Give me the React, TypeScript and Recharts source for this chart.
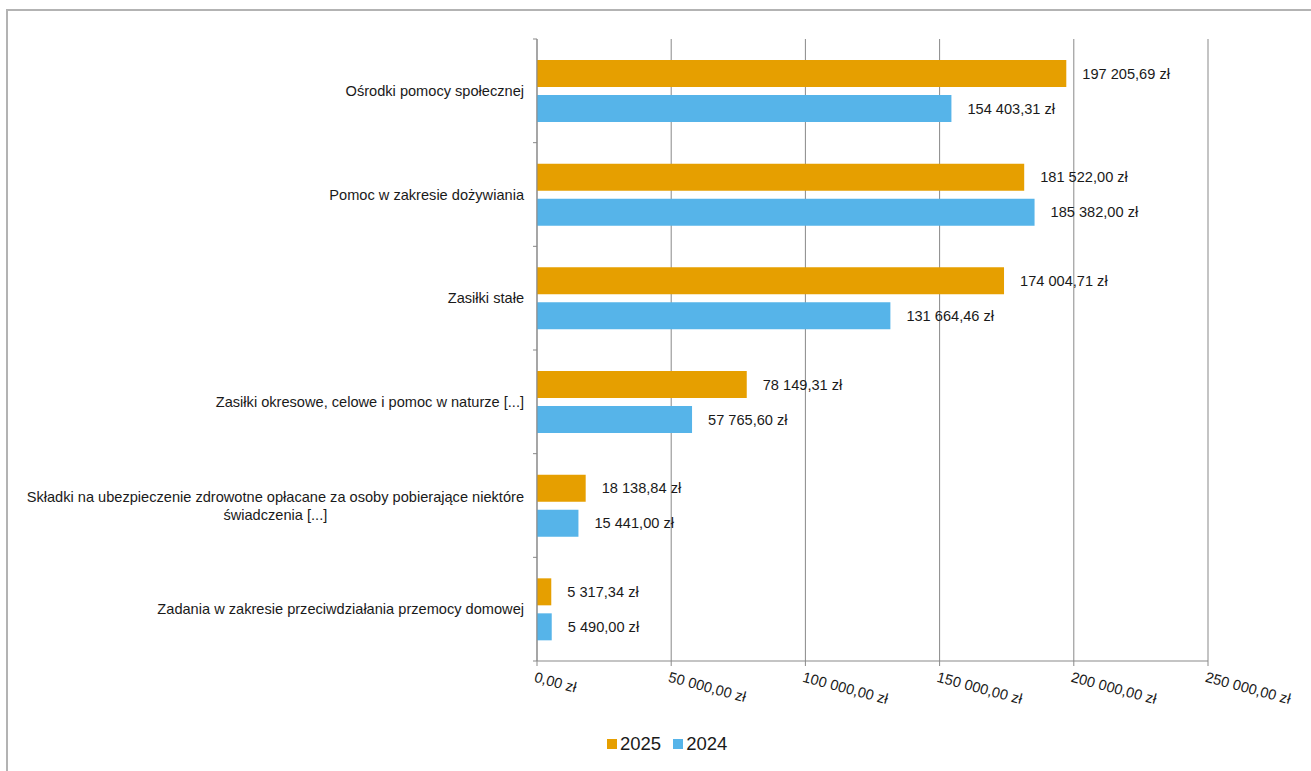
import { BarChart, Bar, XAxis, YAxis, CartesianGrid, LabelList } from "recharts";

const categories = [
  "Ośrodki pomocy społecznej",
  "Pomoc w zakresie dożywiania",
  "Zasiłki stałe",
  "Zasiłki okresowe, celowe i pomoc w naturze [...]",
  "Składki na ubezpieczenie zdrowotne opłacane za osoby pobierające niektóre\nświadczenia [...]",
  "Zadania w zakresie przeciwdziałania przemocy domowej",
];
const values2025 = [197205.69, 181522.0, 174004.71, 78149.31, 18138.84, 5317.34];
const values2024 = [154403.31, 185382.0, 131664.46, 57765.6, 15441.0, 5490.0];
const xTicks = [0, 50000, 100000, 150000, 200000, 250000];

const ORANGE = "#E69F00";
const BLUE = "#56B4E9";
const FONT = "'Liberation Sans', Arial, sans-serif";
const FS = 14.6;

const data = categories.map((name, i) => ({ name, y2025: values2025[i], y2024: values2024[i] }));

// 197205.69 -> "197 205,69 zł"
const fmt = (v: number) => {
  const [i, d] = Number(v).toFixed(2).split(".");
  return i.replace(/\B(?=(\d{3})+(?!\d))/g, " ") + "," + d + " zł";
};

let ctx: CanvasRenderingContext2D | null = null;
const measure = (s: string) => {
  if (!ctx) ctx = document.createElement("canvas").getContext("2d");
  if (!ctx) return s.length * 7;
  ctx.font = `${FS}px ${FONT}`;
  return ctx.measureText(s).width;
};

const YTick = (props: any) => {
  const { x, y, payload, index } = props;
  const lines: string[] = String(payload.value).split("\n");
  const half = payload.offset || 51.8;
  const lh = 18;
  const y0 = y - ((lines.length - 1) * lh) / 2;
  const maxW = Math.max(...lines.map(measure));
  const multi = lines.length > 1;
  const tx = multi ? x - maxW / 2 : x;
  const axisX = x + 13;
  return (
    <g>
      <line x1={axisX - 4} x2={axisX} y1={y - half} y2={y - half} stroke="#898989" />
      {index === categories.length - 1 && (
        <line x1={axisX - 4} x2={axisX} y1={y + half} y2={y + half} stroke="#898989" />
      )}
      <text x={tx} y={y0} textAnchor={multi ? "middle" : "end"} fontSize={FS} fontFamily={FONT} fill="#1a1a1a">
        {lines.map((l, i) => (
          <tspan key={i} x={tx} dy={i === 0 ? 5 : lh}>
            {l}
          </tspan>
        ))}
      </text>
    </g>
  );
};

const XTick = (props: any) => {
  const { x, y, payload } = props;
  return (
    <g transform={`translate(${x},${y})`}>
      <text x={0} y={0} dy={14} transform="rotate(15)" textAnchor="start" fontSize={FS} fontFamily={FONT} fill="#1a1a1a">
        {fmt(payload.value)}
      </text>
    </g>
  );
};

export default function App() {
  return (
    <div style={{ position: "absolute", left: 0, top: 0, width: 1311, height: 771, overflow: "hidden", background: "#fff", fontFamily: FONT }}>
      <div style={{ position: "absolute", left: 6, top: 9, width: 1303, height: 800, border: "2px solid #b3b3b3" }} />
      <div style={{ position: "absolute", left: 0, top: 0 }}>
        <BarChart
          width={1311}
          height={771}
          data={data}
          layout="vertical"
          margin={{ top: 39, right: 103, bottom: 70, left: 0 }}
          barSize={27}
          barGap={8}
        >
          <CartesianGrid horizontal={false} stroke="#898989" strokeWidth={1} />
          <XAxis
            type="number"
            domain={[0, 250000]}
            ticks={xTicks}
            interval={0}
            height={40}
            stroke="#898989"
            tickSize={5}
            tickMargin={2}
            tick={<XTick />}
          />
          <YAxis
            type="category"
            dataKey="name"
            width={537}
            stroke="#898989"
            tickLine={false}
            tickSize={0}
            tickMargin={13}
            interval={0}
            tick={<YTick />}
          />
          <Bar dataKey="y2025" name="2025" fill={ORANGE} isAnimationActive={false}>
            <LabelList dataKey="y2025" position="right" offset={16} formatter={(v: any) => fmt(v)} fontSize={FS} fontFamily={FONT} fill="#1a1a1a" />
          </Bar>
          <Bar dataKey="y2024" name="2024" fill={BLUE} isAnimationActive={false}>
            <LabelList dataKey="y2024" position="right" offset={16} formatter={(v: any) => fmt(v)} fontSize={FS} fontFamily={FONT} fill="#1a1a1a" />
          </Bar>
        </BarChart>
      </div>
      {/* legenda */}
      <div style={{ position: "absolute", left: 607, top: 733, display: "flex", alignItems: "center", fontSize: 18.5, color: "#1a1a1a" }}>
        {[["2025", ORANGE], ["2024", BLUE]].map(([label, color]) => (
          <div key={label} style={{ display: "flex", alignItems: "center", marginRight: 12 }}>
            <span style={{ display: "inline-block", width: 10, height: 10, background: color, marginRight: 3 }} />
            <span>{label}</span>
          </div>
        ))}
      </div>
    </div>
  );
}
